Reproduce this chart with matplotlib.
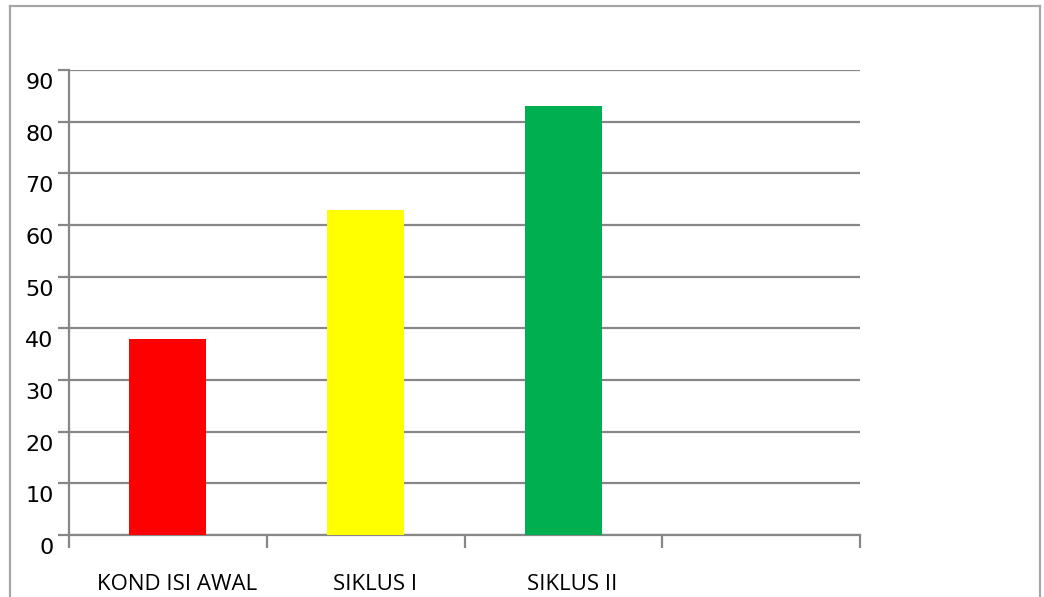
import matplotlib
matplotlib.use("Agg")
import matplotlib.pyplot as plt
import matplotlib.transforms as mtransforms
from matplotlib.lines import Line2D

# data
categories = ["KOND ISI AWAL", "SIKLUS I", "SIKLUS II"]
values = [38, 63, 83]
colors = ["#ff0000", "#ffff00", "#00b050"]
n_slots = 4  # the chart keeps an empty fourth category slot

grid_color = "#878787"

fig = plt.figure(figsize=(10.44, 5.97), dpi=100)
ax = fig.add_axes([69 / 1044, 62 / 597, 791 / 1044, 465 / 597])

x = list(range(len(categories)))
ax.bar(x, values, width=0.39, color=colors, zorder=3)

ax.set_xlim(-0.5, n_slots - 0.5)
ax.set_ylim(0, 90)
ax.set_yticks(range(0, 91, 10))
ax.yaxis.grid(True, color=grid_color, linewidth=1.6, zorder=0)
ax.tick_params(axis="y", length=8, width=1.6, color=grid_color, labelsize=16, pad=3)
# value labels sit a little below their gridlines in the original
yshift = mtransforms.ScaledTranslation(0, -11 / 100, fig.dpi_scale_trans)
for lab in ax.get_yticklabels():
    lab.set_transform(lab.get_transform() + yshift)

# category labels centred in slots, boundary ticks below the axis
ax.set_xticks(x)
ax.set_xticklabels(categories, fontsize=16, family="Open Sans")
ax.tick_params(axis="x", which="major", length=0, pad=28)
ax.set_xticks([i - 0.5 for i in range(n_slots + 1)], minor=True)
ax.tick_params(axis="x", which="minor", length=9, width=1.6, color=grid_color)
shift = mtransforms.ScaledTranslation(9 / 100, 0, fig.dpi_scale_trans)
for lab in ax.get_xticklabels():
    lab.set_transform(lab.get_transform() + shift)

for side in ["top", "right"]:
    ax.spines[side].set_visible(False)
for side in ["left", "bottom"]:
    ax.spines[side].set_color(grid_color)
    ax.spines[side].set_linewidth(1.6)

# outer chart frame (bottom edge cut off in the original)
frame = dict(color="#a6a6a6", linewidth=1.6, transform=fig.transFigure)
fig.add_artist(Line2D([10 / 1044, 10 / 1044], [0, 1 - 6 / 597], **frame))
fig.add_artist(Line2D([10 / 1044, 1040 / 1044], [1 - 6 / 597, 1 - 6 / 597], **frame))
fig.add_artist(Line2D([1040 / 1044, 1040 / 1044], [0, 1 - 6 / 597], **frame))

fig.savefig("out.png", dpi=100)
